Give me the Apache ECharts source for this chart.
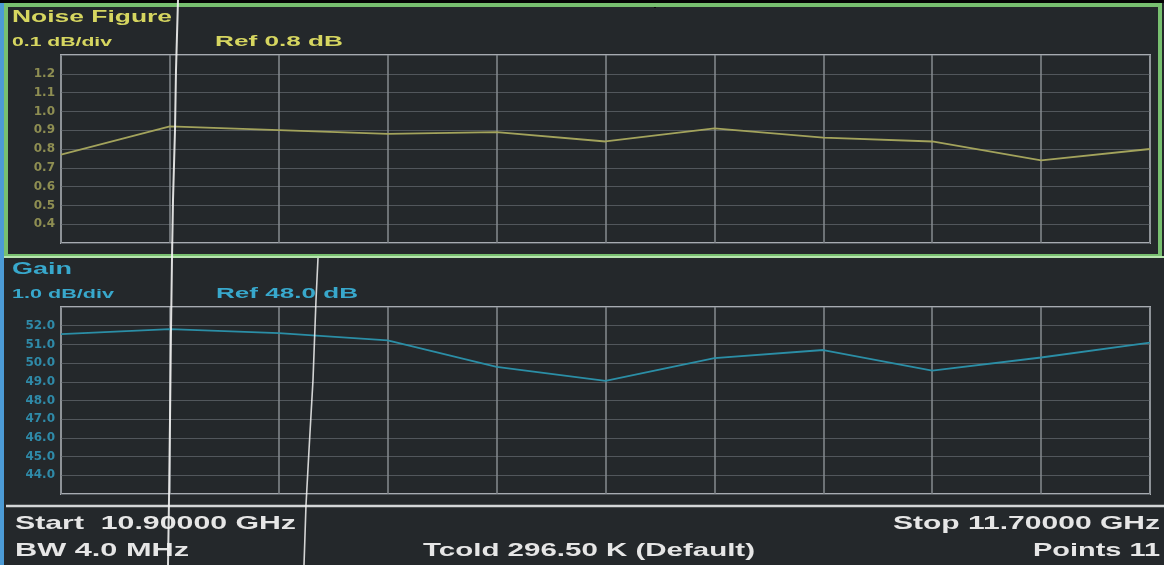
<!DOCTYPE html>
<html>
<head>
<meta charset="utf-8">
<script src="https://cdn.jsdelivr.net/npm/echarts@6/dist/echarts.min.js"></script>
<style>
html,body{margin:0;padding:0;background:#24282b;}
#chart{width:1164px;height:565px;}
</style>
</head>
<body>
<div id="chart"></div>
<script>
// ---- data ----
const frequencies = ['10.90','10.98','11.06','11.14','11.22','11.30','11.38','11.46','11.54','11.62','11.70'];
const noiseFigure = [0.77, 0.92, 0.90, 0.88, 0.89, 0.84, 0.91, 0.86, 0.84, 0.74, 0.80];
const gain = [51.55, 51.82, 51.60, 51.22, 49.80, 49.05, 50.27, 50.70, 49.60, 50.30, 51.10];
const nfTicks = [0.4, 0.5, 0.6, 0.7, 0.8, 0.9, 1.0, 1.1, 1.2];
const gainTicks = [44, 45, 46, 47, 48, 49, 50, 51, 52];

const chart = echarts.init(document.getElementById('chart'));

const mctx = document.createElement('canvas').getContext('2d');
function stretched(text, x, y, font, color, width, align) {
  mctx.font = font;
  const w = mctx.measureText(text).width;
  return {
    type: 'text', x: x, y: y, scaleX: width / w, z: 20,
    style: { text: text, font: font, fill: color, textAlign: align || 'left', textVerticalAlign: 'middle' }
  };
}

const YEL = '#d6d660';
const CYAN = '#38a8cc';
const WHITE = '#e6e6e6';
const F = '"Liberation Sans", Arial, sans-serif';

function xAxisCfg(idx) {
  return {
    type: 'category', gridIndex: idx, data: frequencies, boundaryGap: false,
    axisLine: { show: false }, axisTick: { show: false }, axisLabel: { show: false },
    splitLine: { show: true, lineStyle: { color: '#868b91', width: 1.5 } }
  };
}
function yAxisCfg(idx, min, max, ticks, color, dec) {
  return {
    type: 'value', gridIndex: idx, min: min, max: max, interval: idx === 0 ? 0.1 : 1,
    axisLine: { show: false }, axisTick: { show: false },
    axisLabel: {
      color: color, fontSize: 12, fontWeight: 'bold', fontFamily: '"DejaVu Sans", sans-serif', margin: 6,
      formatter: function (v) {
        const hit = ticks.some(t => Math.abs(t - v) < 1e-6);
        return hit ? v.toFixed(1) : '';
      }
    },
    splitLine: { show: true, lineStyle: { color: '#52575c', width: 1.2 } }
  };
}

const option = {
  backgroundColor: '#24282b',
  animation: false,
  grid: [
    { left: 61, right: 14, top: 55, height: 188, show: true, borderColor: '#a7abb1', borderWidth: 2, backgroundColor: 'transparent' },
    { left: 61, right: 14, top: 307, height: 187, show: true, borderColor: '#a7abb1', borderWidth: 2, backgroundColor: 'transparent' }
  ],
  xAxis: [xAxisCfg(0), xAxisCfg(1)],
  yAxis: [
    yAxisCfg(0, 0.3, 1.3, nfTicks, '#8e8e52'),
    yAxisCfg(1, 43, 53, gainTicks, '#2f8aa8')
  ],
  series: [
    { type: 'line', xAxisIndex: 0, yAxisIndex: 0, data: noiseFigure, symbol: 'none',
      lineStyle: { color: '#a3a35c', width: 1.8 }, z: 5 },
    { type: 'line', xAxisIndex: 1, yAxisIndex: 1, data: gain, symbol: 'none',
      lineStyle: { color: '#2b8ea6', width: 1.8 }, z: 5 }
  ],
  graphic: [
    // top black band
    { type: 'rect', shape: { x: 0, y: 0, width: 1164, height: 3 }, style: { fill: '#050505' }, z: 10 },
    { type: 'line', shape: { x1: 655, y1: 0, x2: 655, y2: 8 }, style: { stroke: '#050505', lineWidth: 2 }, z: 10 },
    // left blue strip
    { type: 'rect', shape: { x: 0, y: 3, width: 4, height: 562 }, style: { fill: '#4c9bd6' }, z: 10 },
    // noise figure panel green frame
    { type: 'rect', shape: { x: 6, y: 5, width: 1154, height: 251 }, style: { fill: 'none', stroke: '#78c070', lineWidth: 4 }, z: 10 },
    { type: 'line', shape: { x1: 4, y1: 257, x2: 1164, y2: 257 }, style: { stroke: '#b8e6b0', lineWidth: 2 }, z: 11 },
    // footer separator
    { type: 'line', shape: { x1: 6, y1: 506, x2: 1164, y2: 506 }, style: { stroke: '#d4d6d8', lineWidth: 2.5 }, z: 10 },
    // titles
    stretched('Noise Figure', 12, 18, 'bold 16px ' + F, YEL, 160),
    stretched('0.1 dB/div', 12, 42, 'bold 13px ' + F, YEL, 100),
    stretched('Ref 0.8 dB', 215, 42, 'bold 15px ' + F, YEL, 128),
    stretched('Gain', 12, 270, 'bold 16px ' + F, CYAN, 60),
    stretched('1.0 dB/div', 12, 294, 'bold 13px ' + F, CYAN, 102),
    stretched('Ref 48.0 dB', 216, 294, 'bold 15px ' + F, CYAN, 142),
    // footer
    stretched('Start  10.90000 GHz', 15, 524, 'bold 19px ' + F, WHITE, 281),
    stretched('BW 4.0 MHz', 15, 551, 'bold 19px ' + F, WHITE, 174),
    stretched('Tcold 296.50 K (Default)', 423, 551, 'bold 19px ' + F, WHITE, 332),
    stretched('Stop 11.70000 GHz', 1160, 524, 'bold 19px ' + F, WHITE, 267, 'right'),
    stretched('Points 11', 1160, 551, 'bold 19px ' + F, WHITE, 127, 'right'),
    // scan fold artifacts
    { type: 'polyline', shape: { points: [[178,0],[176,70],[175,130],[173,200],[172,258],[171,330],[170,420],[169,500],[168,565]] },
      style: { stroke: '#f2f2f2', lineWidth: 2, fill: null, opacity: 0.9 }, z: 30 },
    { type: 'polyline', shape: { points: [[318,258],[316,300],[313,380],[309,450],[306,505],[304,565]] },
      style: { stroke: '#f2f2f2', lineWidth: 1.6, fill: null, opacity: 0.85 }, z: 30 }
  ]
};
chart.setOption(option);
</script>
</body>
</html>
